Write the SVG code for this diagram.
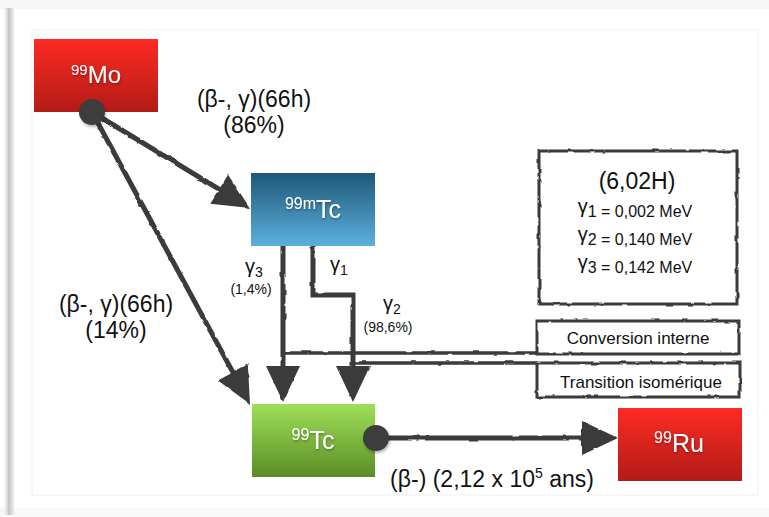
<svg xmlns="http://www.w3.org/2000/svg" width="769" height="517" viewBox="0 0 769 517">
  <defs>
    <linearGradient id="gRed" x1="0" y1="0" x2="0" y2="1">
      <stop offset="0" stop-color="#fd2b23"/>
      <stop offset="1" stop-color="#b31b17"/>
    </linearGradient>
    <linearGradient id="gBlue" x1="0" y1="0" x2="0" y2="1">
      <stop offset="0" stop-color="#1f5878"/>
      <stop offset="1" stop-color="#5cb0de"/>
    </linearGradient>
    <linearGradient id="gGreen" x1="0" y1="0" x2="0" y2="1">
      <stop offset="0" stop-color="#9fdf57"/>
      <stop offset="1" stop-color="#5b8d27"/>
    </linearGradient>
    <linearGradient id="gShade" x1="0" y1="0" x2="1" y2="0">
      <stop offset="0" stop-color="#ffffff" stop-opacity="0"/>
      <stop offset="0.55" stop-color="#c4c4c4"/>
      <stop offset="1" stop-color="#ececec"/>
    </linearGradient>
    <!-- rough, hand-drawn look for strokes -->
    <filter id="rough" x="-10%" y="-10%" width="120%" height="120%">
      <feTurbulence type="fractalNoise" baseFrequency="0.09" numOctaves="2" seed="3" result="n"/>
      <feDisplacementMap in="SourceGraphic" in2="n" scale="2.6" xChannelSelector="R" yChannelSelector="G"/>
    </filter>
    <filter id="txtShadow" x="-20%" y="-20%" width="140%" height="160%">
      <feDropShadow dx="0.5" dy="1.5" stdDeviation="1.2" flood-color="#000" flood-opacity="0.35"/>
    </filter>
    <filter id="dotShadow" x="-50%" y="-50%" width="200%" height="200%">
      <feDropShadow dx="1" dy="2" stdDeviation="1.5" flood-color="#000" flood-opacity="0.3"/>
    </filter>
    <marker id="head" markerUnits="userSpaceOnUse" markerWidth="38" markerHeight="36" viewBox="0 0 38 36" refX="17" refY="18" orient="auto">
      <path d="M1,1 L37,18 L1,35 Z" fill="#3a3a3a"/>
    </marker>
    <style>
      .lbl { font-family: "Liberation Sans", Arial, sans-serif; fill: #111; }
      .node { font-family: "Liberation Sans", Arial, sans-serif; fill: #fff; }
      .wire { fill: none; stroke: #3a3a3a; stroke-width: 5; stroke-linejoin: miter; }
      .thin { fill: none; stroke: #3a3a3a; stroke-width: 3.5; }
      .box { fill: #fff; stroke: #3a3a3a; stroke-width: 3; }
      .dot { fill: #3d3d3d; }
    </style>
  </defs>

  <!-- page -->
  <rect x="0" y="0" width="769" height="517" fill="#ffffff"/>
  <rect x="0" y="0" width="769" height="9" fill="#f6f6f6"/>
  <rect x="0" y="508" width="769" height="9" fill="#f8f8f8"/>
  <rect x="2" y="8" width="12" height="507" fill="url(#gShade)"/>
  <rect x="32" y="30" width="726" height="465" fill="none" stroke="#f0f0f0" stroke-width="1"/>

  <!-- connectors -->
  <g id="connectors" filter="url(#rough)">
    <path class="wire" d="M92,112 L232.9,197.6" marker-end="url(#head)"/>
    <path class="wire" d="M92,112 L240.5,386.4" marker-end="url(#head)"/>
    <path class="wire" d="M283,246 V382" marker-end="url(#head)"/>
    <path class="wire" d="M313,246 V295 H353 V382" marker-end="url(#head)"/>
    <path class="thin" d="M285,353 H538"/>
    <path class="thin" d="M353,363 H538"/>
    <path class="wire" d="M376,438 H598" marker-end="url(#head)"/>
  </g>

  <!-- 99Mo -->
  <g id="mo99">
    <rect x="34" y="39" width="124" height="73" fill="url(#gRed)"/>
    <text class="node" x="96" y="83" text-anchor="middle" font-size="24" filter="url(#txtShadow)"><tspan font-size="15" dy="-8">99</tspan><tspan dy="8">Mo</tspan></text>
    <circle class="dot" cx="92" cy="112" r="13" filter="url(#dotShadow)"/>
  </g>

  <!-- 99mTc -->
  <g id="tc99m">
    <rect x="251" y="173" width="124" height="73" fill="url(#gBlue)"/>
    <text class="node" x="313" y="218" text-anchor="middle" font-size="25" filter="url(#txtShadow)"><tspan font-size="16" dy="-9">99m</tspan><tspan dy="9">Tc</tspan></text>
  </g>

  <!-- 99Tc -->
  <g id="tc99">
    <rect x="252" y="404" width="123" height="73" fill="url(#gGreen)"/>
    <text class="node" x="313" y="449" text-anchor="middle" font-size="25" filter="url(#txtShadow)"><tspan font-size="16" dy="-9">99</tspan><tspan dy="9">Tc</tspan></text>
    <circle class="dot" cx="376" cy="438" r="13" filter="url(#dotShadow)"/>
  </g>

  <!-- 99Ru -->
  <g id="ru99">
    <rect x="618" y="408" width="124" height="73" fill="url(#gRed)"/>
    <text class="node" x="679" y="452" text-anchor="middle" font-size="25" filter="url(#txtShadow)"><tspan font-size="16" dy="-9">99</tspan><tspan dy="9">Ru</tspan></text>
  </g>

  <!-- half-life and gamma energies -->
  <g id="info">
    <rect class="box" x="539" y="151" width="198" height="153" filter="url(#rough)"/>
    <text class="lbl" x="637" y="189" text-anchor="middle" font-size="23">(6,02H)</text>
    <text class="lbl" x="635" y="217" text-anchor="middle" font-size="16"><tspan font-size="20" dy="-4">γ</tspan><tspan dy="4">1 = 0,002 MeV</tspan></text>
    <text class="lbl" x="635" y="245" text-anchor="middle" font-size="16"><tspan font-size="20" dy="-4">γ</tspan><tspan dy="4">2 = 0,140 MeV</tspan></text>
    <text class="lbl" x="635" y="273" text-anchor="middle" font-size="16"><tspan font-size="20" dy="-4">γ</tspan><tspan dy="4">3 = 0,142 MeV</tspan></text>
  </g>

  <g id="conversion">
    <rect class="box" x="537" y="321" width="202" height="33" filter="url(#rough)"/>
    <text class="lbl" x="638" y="344" text-anchor="middle" font-size="17">Conversion interne</text>
  </g>

  <g id="transition">
    <rect class="box" x="537" y="363" width="203" height="34" filter="url(#rough)"/>
    <text class="lbl" x="641" y="388" text-anchor="middle" font-size="17">Transition isomérique</text>
  </g>

  <!-- transition labels -->
  <g id="labels">
    <text class="lbl" x="254" y="107" text-anchor="middle" font-size="23">(β-, γ)(66h)</text>
    <text class="lbl" x="254" y="133" text-anchor="middle" font-size="23">(86%)</text>
    <text class="lbl" x="116" y="312" text-anchor="middle" font-size="23">(β-, γ)(66h)</text>
    <text class="lbl" x="116" y="338" text-anchor="middle" font-size="23">(14%)</text>

    <text class="lbl" x="254" y="277" text-anchor="middle" font-size="14"><tspan font-size="20" dy="-4">γ</tspan><tspan dy="4">3</tspan></text>
    <text class="lbl" x="251" y="294" text-anchor="middle" font-size="14">(1,4%)</text>
    <text class="lbl" x="339" y="275" text-anchor="middle" font-size="14"><tspan font-size="20" dy="-4">γ</tspan><tspan dy="4">1</tspan></text>
    <text class="lbl" x="392" y="314" text-anchor="middle" font-size="14"><tspan font-size="20" dy="-4">γ</tspan><tspan dy="4">2</tspan></text>
    <text class="lbl" x="388" y="332" text-anchor="middle" font-size="14">(98,6%)</text>

    <text class="lbl" x="492" y="487" text-anchor="middle" font-size="23">(β-) (2,12 x 10<tspan font-size="14" dy="-9">5</tspan><tspan dy="9"> ans)</tspan></text>
  </g>
</svg>
